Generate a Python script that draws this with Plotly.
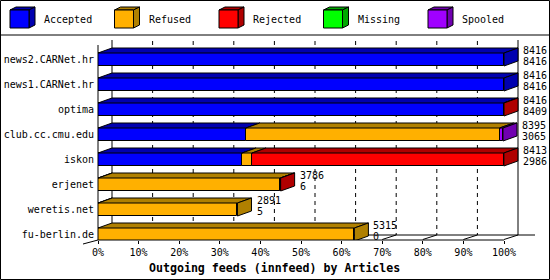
import plotly.graph_objects as go

# ---------------- data ----------------
feeds = ["news2.CARNet.hr", "news1.CARNet.hr", "optima", "club.cc.cmu.edu",
         "iskon", "erjenet", "weretis.net", "fu-berlin.de"]
accepted = [8416, 8416, 8409, 3065, 2986, 6, 5, 0]
refused = [0, 0, 0, 5260, 207, 3774, 2886, 5315]
rejected = [0, 0, 7, 0, 5220, 6, 0, 0]
missing = [0, 0, 0, 0, 0, 0, 0, 0]
spooled = [0, 0, 0, 70, 0, 0, 0, 0]
series_names = ["Accepted", "Refused", "Rejected", "Missing", "Spooled"]
x_ticks = [0, 10, 20, 30, 40, 50, 60, 70, 80, 90, 100]
x_title = "Outgoing feeds (innfeed) by Articles"

# ---------------- styles ----------------
front_colors = ["#0000ff", "#ffb000", "#ff0000", "#00ff00", "#a000ff"]
dark_colors = ["#0000b0", "#b08000", "#b00000", "#00a800", "#7000b0"]
FONT = "DejaVu Sans Mono"

W_FIG, H_FIG = 550, 280
ML, MR, MT, MB = 98, 10, 40, 40
PW, PH = W_FIG - ML - MR, H_FIG - MT - MB
PX_PER_PCT = 4.06
ROW0_PX, PITCH = 59.5, 25.0
DX = 14 / PX_PER_PCT          # depth in x (percent units)
DY = 5 / PITCH                # depth in y (row units)
HH = 6.5 / PITCH              # half height of front face


def ypx(p):
    return (p - ROW0_PX) / PITCH


def xpx(p):
    return (p - ML) / PX_PER_PCT


def px(p):
    return (p - ML) / PW


def py(p):
    return 1 - (p - MT) / PH


series = [accepted, refused, rejected, missing, spooled]
totals = [sum(v) for v in zip(*series)]
scale_max = max(totals)
rows = list(range(len(feeds)))

fig = go.Figure()

# front faces
cum = [0.0] * len(feeds)
segs = []  # (row, series idx, x0, x1)
for si, vals in enumerate(series):
    pct = [v / scale_max * 100 for v in vals]
    fig.add_trace(go.Bar(
        y=rows, x=[p if v > 0 else None for p, v in zip(pct, vals)],
        base=cum[:], orientation="h", width=2 * HH,
        marker=dict(color=front_colors[si], line=dict(color="black", width=1)),
        hoverinfo="skip", showlegend=False))
    for r in rows:
        if vals[r] > 0:
            segs.append((r, si, cum[r], cum[r] + pct[r]))
    cum = [c + p for c, p in zip(cum, pct)]

# top faces & side faces
last_seg = {}
for s in segs:
    last_seg[s[0]] = s
for si in range(len(series)):
    xs, ys = [], []
    for (r, s, x0, x1) in segs:
        if s != si:
            continue
        t = r - HH
        xs += [x0, x1, x1 + DX, x0 + DX, x0, None]
        ys += [t, t, t - DY, t - DY, t, None]
    if xs:
        fig.add_trace(go.Scatter(x=xs, y=ys, mode="lines", fill="toself",
                                 fillcolor=dark_colors[si],
                                 line=dict(color="black", width=1),
                                 hoverinfo="skip", showlegend=False))
    xs, ys = [], []
    for r, (rr, s, x0, x1) in last_seg.items():
        if s != si:
            continue
        xs += [x1, x1 + DX, x1 + DX, x1, x1, None]
        ys += [r - HH, r - HH - DY, r + HH - DY, r + HH, r - HH, None]
    if xs:
        fig.add_trace(go.Scatter(x=xs, y=ys, mode="lines", fill="toself",
                                 fillcolor=dark_colors[si],
                                 line=dict(color="black", width=1),
                                 hoverinfo="skip", showlegend=False))

shapes = []
# back plane gridlines
for t in x_ticks[1:-1]:
    shapes.append(dict(type="line", xref="x", yref="y", x0=t + DX, x1=t + DX,
                       y0=ypx(41), y1=ypx(235), layer="below",
                       line=dict(color="black", width=1, dash="4px,4px")))
# back y axis, right border, back floor line
shapes.append(dict(type="line", xref="x", yref="y", x0=DX, x1=DX, y0=ypx(40), y1=ypx(235),
                   layer="below", line=dict(color="black", width=1)))
shapes.append(dict(type="line", xref="x", yref="y", x0=100 + DX, x1=100 + DX, y0=ypx(40), y1=ypx(235),
                   layer="below", line=dict(color="black", width=1)))
shapes.append(dict(type="line", xref="x", yref="y", x0=DX, x1=xpx(535), y0=ypx(235), y1=ypx(235),
                   layer="below", line=dict(color="black", width=1)))
# depth connectors at ticks
for t in x_ticks:
    shapes.append(dict(type="line", xref="x", yref="y", x0=t, x1=t + DX, y0=ypx(239.5), y1=ypx(235),
                       layer="below", line=dict(color="black", width=1)))
# front axes
shapes.append(dict(type="line", xref="paper", yref="paper", x0=px(98), x1=px(98), y0=py(45), y1=py(240),
                   line=dict(color="black", width=1)))
shapes.append(dict(type="line", xref="paper", yref="paper", x0=px(98), x1=px(98 + 100 * PX_PER_PCT),
                   y0=py(240), y1=py(240), line=dict(color="black", width=1)))
shapes.append(dict(type="line", xref="paper", yref="paper", x0=px(83), x1=px(98), y0=py(244), y1=py(240),
                   line=dict(color="black", width=1)))
# legend separator & outer border
shapes.append(dict(type="line", xref="paper", yref="paper", x0=px(0), x1=px(550), y0=py(35), y1=py(35),
                   line=dict(color="black", width=1)))
shapes.append(dict(type="rect", xref="paper", yref="paper", x0=px(0.5), x1=px(549.5), y0=py(0.5), y1=py(279.5),
                   line=dict(color="black", width=1)))

annotations = []
# legend cubes
for i, name in enumerate(series_names):
    lx = 10 + i * 104.5
    x0, x1, y0, y1 = lx, lx + 19, 10, 28
    d, e = 6, 3
    shapes.append(dict(type="path", xref="paper", yref="paper",
                       path=f"M{px(x0)},{py(y0)} L{px(x0+d)},{py(y0-e)} L{px(x1+d)},{py(y0-e)} L{px(x1)},{py(y0)} Z",
                       fillcolor=dark_colors[i], line=dict(color="black", width=1)))
    shapes.append(dict(type="path", xref="paper", yref="paper",
                       path=f"M{px(x1)},{py(y0)} L{px(x1+d)},{py(y0-e)} L{px(x1+d)},{py(y1-e)} L{px(x1)},{py(y1)} Z",
                       fillcolor=dark_colors[i], line=dict(color="black", width=1)))
    shapes.append(dict(type="rect", xref="paper", yref="paper", x0=px(x0), x1=px(x1), y0=py(y0), y1=py(y1),
                       fillcolor=front_colors[i], line=dict(color="black", width=1)))
    annotations.append(dict(xref="paper", yref="paper", x=px(lx + 32), y=py(20), text=name,
                            showarrow=False, xanchor="left", yanchor="middle",
                            font=dict(family=FONT, size=10, color="black")))

# value labels
for r in rows:
    xe = totals[r] / scale_max * 100 + DX + 0.75
    annotations.append(dict(xref="x", yref="y", x=xe, y=r - 0.38, text=str(totals[r]),
                            showarrow=False, xanchor="left", yanchor="middle",
                            font=dict(family=FONT, size=10, color="black")))
    annotations.append(dict(xref="x", yref="y", x=xe, y=r + 0.06, text=str(accepted[r]),
                            showarrow=False, xanchor="left", yanchor="middle",
                            font=dict(family=FONT, size=10, color="black")))

annotations.append(dict(xref="paper", yref="paper", x=px(274), y=py(268), text=f"<b>{x_title}</b>",
                        showarrow=False, xanchor="center", yanchor="middle",
                        font=dict(family=FONT, size=11.6, color="black")))

fig.update_layout(
    width=W_FIG, height=H_FIG,
    margin=dict(l=ML, r=MR, t=MT, b=MB, pad=0),
    paper_bgcolor="white", plot_bgcolor="white",
    barmode="overlay", bargap=0,
    shapes=shapes, annotations=annotations,
    xaxis=dict(range=[0, PW / PX_PER_PCT], tickvals=x_ticks, ticktext=[f"{t}%" for t in x_ticks],
               ticks="outside", ticklen=3, tickcolor="black", showgrid=False, zeroline=False,
               showline=False, automargin=False,
               tickfont=dict(family=FONT, size=10, color="black"), fixedrange=True),
    yaxis=dict(range=[ypx(MT + PH), ypx(MT)], tickvals=rows, ticktext=feeds, ticks="",
               showgrid=False, zeroline=False, showline=False, ticklabelstandoff=3,
               automargin=False,
               tickfont=dict(family=FONT, size=10, color="black"), fixedrange=True),
)

fig.write_html("out.html")
